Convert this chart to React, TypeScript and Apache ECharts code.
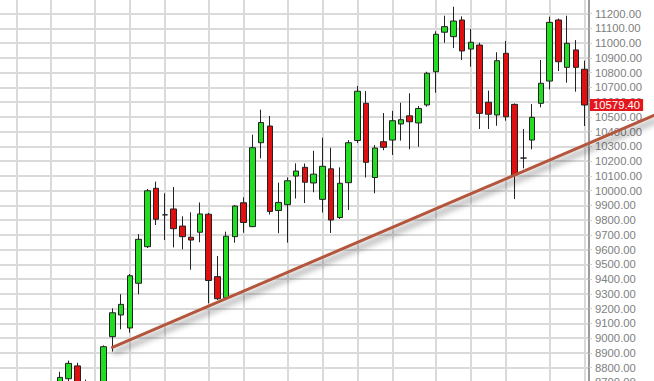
import React, { useEffect, useRef } from "react";
import * as echarts from "echarts";

// Weekly OHLC values; the first seven weeks sit below the visible price range.
const opens: (number | null)[] = [
  null, null, null, null, null, null, null,
  8690, 8724, 8811, 8690, 8620, 8670, 9009, 9156, 9068, 9371,
  9619, 10015, 9835, 9875, 9759, 9683, 9717, 9839, 9416, 9273,
  9687, 9917, 9755, 10324, 10437, 9864, 9904, 10098, 10157, 10051,
  9940, 10147, 9817, 10053, 10339, 10591, 10088, 10331, 10342, 10451,
  10506, 10458, 10580, 10805, 11073, 11043, 11156, 10959, 10986, 10598,
  10512, 10930, 10584, 10220, 10342, 10591, 10742, 11156, 10835, 10953,
  10822,
];
const closes: (number | null)[] = [
  null, null, null, null, null, null, null,
  8733, 8828, 8690, 8640, 8670, 8941, 9171, 9228, 9422, 9669,
  9998, 9805, 9835, 9741, 9687, 9664, 9841, 9390, 9266, 9690,
  9895, 9783, 10290, 10461, 9858, 9919, 10066, 10132, 10056, 10111,
  10164, 9800, 10049, 10324, 10673, 10191, 10288, 10293, 10473, 10480,
  10466, 10556, 10795, 11059, 11111, 11149, 10946, 11005, 10523, 10517,
  10880, 10500, 10105, 10220, 10496, 10727, 11140, 10873, 10998, 10835,
  10579.4,
];
const lows: (number | null)[] = [
  null, null, null, null, null, null, null,
  8660, 8700, 8660, 8610, 8590, 8650, 8908, 9059, 9036, 9297,
  9610, 9766, 9664, 9614, 9601, 9463, 9649, 9235, 9258, 9264,
  9646, 9714, 9752, 10218, 9837, 9710, 9647, 9946, 9915, 9988,
  9851, 9712, 9807, 9868, 10322, 10088, 9981, 10273, 10241, 10338,
  10279, 10297, 10568, 10663, 11002, 10966, 10885, 10839, 10417, 10417,
  10439, 10473, 9942, 10150, 10279, 10564, 10686, 10810, 10731, 10670,
  10437,
];
const highs: (number | null)[] = [
  null, null, null, null, null, null, null,
  8771, 8847, 8832, 8718, 8700, 8950, 9201, 9297, 9434, 9704,
  10010, 10060, 9981, 10024, 9825, 9852, 9919, 9848, 9556, 9721,
  9902, 9954, 10378, 10548, 10505, 10053, 10089, 10184, 10183, 10269,
  10358, 10290, 10157, 10342, 10709, 10675, 10308, 10525, 10540, 10595,
  10659, 10573, 10805, 11079, 11185, 11246, 11181, 11095, 11002, 10677,
  10937, 11014, 10590, 10417, 10586, 10885, 11178, 11166, 11185, 11020,
  10880,
];

const weeks: string[] = opens.map((_, i) => `W${String(i + 1).padStart(2, "0")}`);

// Weeks that open a new month (vertical grid lines).
const monthStartWeeks: number[] = [2, 6, 11, 15, 19, 24, 28, 33, 37, 41, 45, 50, 54, 58, 63, 67];

// Support trend line: anchored on two weeks and extended to the right edge.
const trendWeeks: number[] = [13, 59];
const trendPrices: number[] = [8937, 10105];

const priceMin = 8600;
const priceMax = 11300;
const priceStep = 100;

const lastPrice = closes[closes.length - 1] as number;

const GRID_COLOR = "#dadada";
const LABEL_FONT = "'Liberation Sans', Arial, sans-serif";

export default function App() {
  const ref = useRef<HTMLDivElement>(null);

  useEffect(() => {
    if (!ref.current) return;
    const chart = echarts.init(ref.current, undefined, { renderer: "svg" });

    const candles = opens.map((o, i) =>
      o == null ? "-" : [o, closes[i], lows[i], highs[i]]
    );

    chart.setOption({
      animation: false,
      backgroundColor: "#ffffff",
      grid: { left: 14.4, right: 65, top: 8.75, bottom: 13, containLabel: false },
      xAxis: {
        type: "category",
        data: weeks,
        boundaryGap: true,
        axisLine: { show: false },
        axisTick: { show: false },
        axisLabel: { show: false },
        splitLine: { show: false },
      },
      yAxis: {
        type: "value",
        position: "right",
        min: priceMin,
        max: priceMax,
        interval: priceStep,
        axisLine: { show: true, lineStyle: { color: "#9c9c9c", width: 2 } },
        axisTick: { show: true, length: 3, lineStyle: { color: "#cfcfcf", width: 1 } },
        axisLabel: {
          color: "#808080",
          fontFamily: LABEL_FONT,
          fontSize: 11.3,
          margin: 6,
          showMaxLabel: false,
          formatter: (v: number) => v.toFixed(2),
        },
        splitLine: { show: true, lineStyle: { color: GRID_COLOR, width: 2 } },
      },
      series: [
        {
          type: "candlestick",
          data: candles,
          barWidth: 6,
          z: 3,
          itemStyle: {
            color: "#22dd22",
            color0: "#e01010",
            borderColor: "#222222",
            borderColor0: "#222222",
            borderColorDoji: "#222222",
            borderWidth: 1,
          },
          markLine: {
            silent: true,
            symbol: ["none", "none"],
            z: 1,
            animation: false,
            label: { show: false },
            lineStyle: { color: GRID_COLOR, width: 2, type: "solid" },
            data: monthStartWeeks.map((i) => ({ xAxis: weeks[i] })),
          },
        },
        {
          type: "line",
          data: weeks.map(() => "-"),
          showSymbol: false,
          z: 6,
          markLine: {
            silent: true,
            symbol: ["none", "none"],
            z: 6,
            animation: false,
            lineStyle: { color: "rgba(0,0,0,0)", width: 1 },
            label: {
              show: true,
              position: "end",
              distance: 1,
              formatter: lastPrice.toFixed(2),
              color: "#ffffff",
              backgroundColor: "#e4161b",
              padding: [1, 3, 0, 3],
              fontFamily: LABEL_FONT,
              fontSize: 11.3,
            },
            data: [{ yAxis: lastPrice }],
          },
        },
      ],
    });

    // Trend line through two anchors, extended across the price scale.
    const a = chart.convertToPixel({ gridIndex: 0 }, [weeks[trendWeeks[0]], trendPrices[0]]) as number[];
    const b = chart.convertToPixel({ gridIndex: 0 }, [weeks[trendWeeks[1]], trendPrices[1]]) as number[];
    const slope = (b[1] - a[1]) / (b[0] - a[0]);
    const endX = chart.getWidth();
    const endY = a[1] + slope * (endX - a[0]);

    chart.setOption({
      graphic: [
        {
          type: "line",
          z: 100,
          silent: true,
          shape: { x1: a[0], y1: a[1], x2: endX, y2: endY },
          style: {
            stroke: "#b4553c",
            lineWidth: 3,
            lineCap: "round",
            shadowBlur: 6,
            shadowColor: "rgba(0,0,0,0.5)",
            shadowOffsetX: 2,
            shadowOffsetY: 5,
          },
        },
      ],
    });

    return () => chart.dispose();
  }, []);

  return (
    <div
      ref={ref}
      style={{
        position: "fixed",
        left: -20,
        top: -10,
        width: 674,
        height: 420,
        background: "#ffffff",
      }}
    />
  );
}
